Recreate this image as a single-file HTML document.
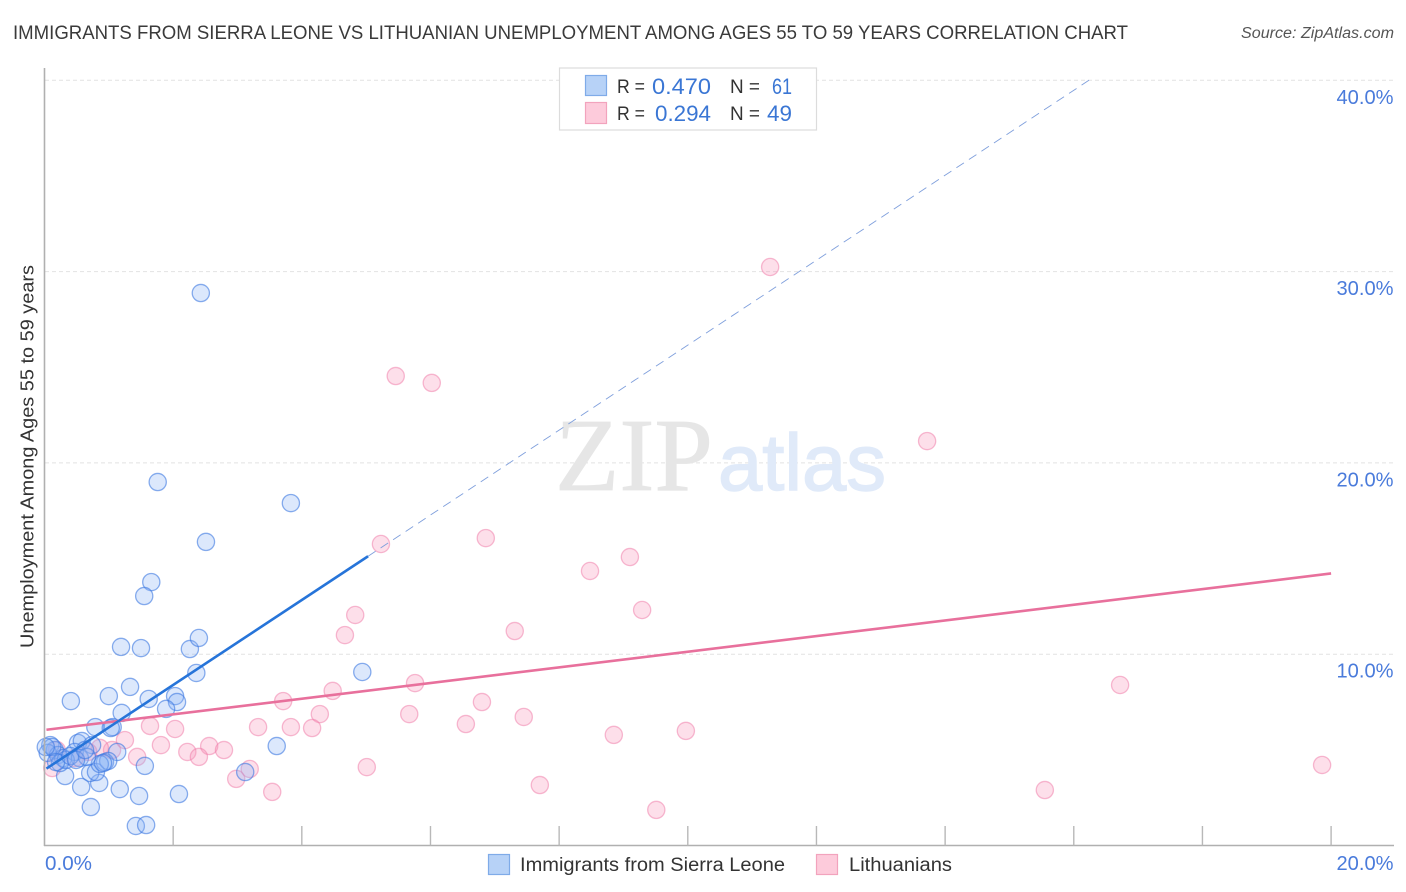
<!DOCTYPE html>
<html lang="en">
<head>
<meta charset="utf-8">
<title>Immigrants from Sierra Leone vs Lithuanian Unemployment Correlation Chart</title>
<style>
  html, body { margin: 0; padding: 0; background: #fff; }
  svg { display: block; font-family: "Liberation Sans", sans-serif; }
</style>
</head>
<body>
<svg id="chart" xmlns="http://www.w3.org/2000/svg" width="1406" height="892" viewBox="0 0 1406 892">
  <rect x="0" y="0" width="1406" height="892" fill="#ffffff"/>
  <text x="13" y="39" font-size="19.5" fill="#3a3a3a" textLength="1115" lengthAdjust="spacingAndGlyphs">IMMIGRANTS FROM SIERRA LEONE VS LITHUANIAN UNEMPLOYMENT AMONG AGES 55 TO 59 YEARS CORRELATION CHART</text>
  <text x="1394" y="38" font-size="15.5" font-style="italic" fill="#555555" text-anchor="end" textLength="153" lengthAdjust="spacingAndGlyphs">Source: ZipAtlas.com</text>

  <g id="grid"></g>

  <g>
    <text x="555" y="490" font-family="'Liberation Serif', serif" font-size="104" fill="#e6e6e6" stroke="#e6e6e6" stroke-width="0.8" textLength="158" lengthAdjust="spacingAndGlyphs">ZIP</text>
    <text x="718" y="490" font-size="80" fill="#e0eaf9" stroke="#e0eaf9" stroke-width="1.4" textLength="168" lengthAdjust="spacingAndGlyphs">atlas</text>
  </g>

  <g id="points-lithuanians"></g>
  <g id="points-sierra"></g>
  <g id="trends"></g>
  <g id="axes"></g>

  <g>
    <rect x="559.5" y="68" width="257" height="62" fill="#ffffff" stroke="#dcdcdc" stroke-width="1.2"/>
    <rect x="585.5" y="75.5" width="21" height="20" fill="#b7d2f7" stroke="#7fabe8" stroke-width="1.2"/>
    <rect x="585.5" y="102.5" width="21" height="21" fill="#fdcbdb" stroke="#f2a3bd" stroke-width="1.2"/>
    <text x="617" y="93" font-size="19" fill="#333333" textLength="28" lengthAdjust="spacingAndGlyphs">R =</text>
    <text x="652" y="94" font-size="22" fill="#3a76d4" textLength="59" lengthAdjust="spacingAndGlyphs">0.470</text>
    <text x="730" y="93" font-size="19" fill="#333333" textLength="30" lengthAdjust="spacingAndGlyphs">N =</text>
    <text x="772" y="94" font-size="22" fill="#3a76d4" textLength="20" lengthAdjust="spacingAndGlyphs">61</text>
    <text x="617" y="120" font-size="19" fill="#333333" textLength="28" lengthAdjust="spacingAndGlyphs">R =</text>
    <text x="655" y="121" font-size="22" fill="#3a76d4" textLength="56" lengthAdjust="spacingAndGlyphs">0.294</text>
    <text x="730" y="120" font-size="19" fill="#333333" textLength="30" lengthAdjust="spacingAndGlyphs">N =</text>
    <text x="767" y="121" font-size="22" fill="#3a76d4" textLength="25" lengthAdjust="spacingAndGlyphs">49</text>
  </g>

  <g>
    <g>
      <rect x="488.5" y="854.5" width="21" height="20" fill="#b7d2f7" stroke="#7fabe8" stroke-width="1.2"/>
      <text x="520" y="871" font-size="19" fill="#333333" textLength="265" lengthAdjust="spacingAndGlyphs">Immigrants from Sierra Leone</text>
    </g>
    <g>
      <rect x="816.5" y="854.5" width="21" height="20" fill="#fdcbdb" stroke="#f2a3bd" stroke-width="1.2"/>
      <text x="849" y="871" font-size="19" fill="#333333" textLength="103" lengthAdjust="spacingAndGlyphs">Lithuanians</text>
    </g>
  </g>

  <text transform="translate(33.5,648) rotate(-90)" font-size="18.5" fill="#333333" textLength="383" lengthAdjust="spacingAndGlyphs">Unemployment Among Ages 55 to 59 years</text>
</svg>

<script>
// Data (x = percent immigrants from Sierra Leone / Lithuanian, y = unemployment percent)
const sierraX = [2.43,1.76,3.83,2.51,1.66,1.55,1.19,1.50,2.26,2.40,2.36,4.94,0.41,1.00,1.33,1.62,2.03,2.06,1.89,1.20,0.79,1.06,1.03,1.13,1.56,1.17,0.57,0.85,0.71,0.80,0.32,0.72,1.47,2.09,1.42,1.58,3.12,3.61,0.52,0.58,0.74,0.94,0.99,0.86,0.91,0.09,0.16,0.05,0.21,0.29,0.47,0.55,0.66,0.24,0.33,0.12,0.02,0.18,0.40,0.49,0.63];
const sierraY = [28.88,19.00,17.90,15.87,13.77,13.04,10.38,10.32,10.27,10.85,9.02,9.07,7.55,7.81,8.29,7.66,7.81,7.50,7.14,6.93,6.19,6.19,6.14,4.89,4.16,2.95,3.06,3.27,3.79,3.84,3.63,2.01,2.59,2.69,1.02,1.07,3.84,5.20,5.36,5.46,5.25,4.36,4.42,4.26,4.31,5.25,4.99,4.84,4.73,4.57,4.89,4.57,4.63,4.31,4.47,5.15,5.15,4.36,4.68,4.47,4.99];
const lithuanianX = [11.28,5.46,6.02,13.72,5.23,6.86,8.48,9.10,9.29,4.83,4.67,7.31,16.72,4.48,5.76,3.71,6.80,4.28,5.67,7.45,6.55,3.32,3.83,4.16,1.64,2.03,8.85,9.97,1.25,1.81,2.56,2.79,2.22,2.40,1.44,5.01,19.86,7.70,3.19,2.98,3.54,15.55,9.51,1.05,0.86,0.12,0.19,0.47,0.68];
const lithuanianY = [30.24,24.54,24.18,21.14,15.76,16.07,14.35,15.08,12.31,12.05,11.00,11.21,8.39,8.08,8.49,7.55,7.50,6.87,6.87,6.72,6.35,6.19,6.19,6.14,6.25,6.09,5.78,5.99,5.51,5.25,5.20,4.99,4.89,4.63,4.63,4.10,4.21,3.16,4.00,3.48,2.80,2.90,1.86,4.99,5.10,4.05,4.99,4.57,4.89];
const sierraTrendX = [0.03,5.03,16.28];
const sierraTrendY = [4.02,15.12,40.1];
const lithuanianTrendX = [0.03,20];
const lithuanianTrendY = [6.05,14.22];
const yTickValues = [10,20,30,40];
const yTickLabels = ["10.0%","20.0%","30.0%","40.0%"];
const xTickValues = [2,4,6,8,10,12,14,16,18,20];
const xEndLabels = ["0.0%","20.0%"];

const NS = "http://www.w3.org/2000/svg";
function xScale(v) { return 44.5 + v * 64.33; }
function yScale(v) { return 845.5 - v * 19.13; }
function make(tag, attrs, parent) {
  const el = document.createElementNS(NS, tag);
  for (const k in attrs) el.setAttribute(k, attrs[k]);
  parent.appendChild(el);
  return el;
}

const grid = document.getElementById("grid");
yTickValues.forEach(function (v) {
  const line = make("line", {x1: 45, x2: 1393, y1: yScale(v), y2: yScale(v), stroke: "#e2e2e2", "stroke-width": 1, "stroke-dasharray": "4 3"}, grid);
  
  
});

const axes = document.getElementById("axes");
const yAxis = make("line", {x1: 44.5, x2: 44.5, y1: 68, y2: 846, stroke: "#b0b0b0", "stroke-width": 1.6}, axes);


const xAxis = make("line", {x1: 44, x2: 1394, y1: 845.5, y2: 845.5, stroke: "#b0b0b0", "stroke-width": 1.6}, axes);


xTickValues.forEach(function (v) {
  const t = make("line", {x1: xScale(v), x2: xScale(v), y1: 826, y2: 845.5, stroke: "#b8b8b8", "stroke-width": 1.4}, axes);
  
  
});
yTickValues.forEach(function (v, i) {
  const t = make("text", {x: 1393.5, y: yScale(v) + 23.5, "text-anchor": "end", "font-size": 20, fill: "#4a7bdb", textLength: 57, lengthAdjust: "spacingAndGlyphs"}, axes);
  t.textContent = yTickLabels[i];
  
  
});
const x0Label = make("text", {x: 45, y: 870, "font-size": 20, fill: "#4a7bdb", textLength: 47, lengthAdjust: "spacingAndGlyphs"}, axes);
x0Label.textContent = xEndLabels[0];


const x1Label = make("text", {x: 1393.5, y: 870, "text-anchor": "end", "font-size": 20, fill: "#4a7bdb", textLength: 57, lengthAdjust: "spacingAndGlyphs"}, axes);
x1Label.textContent = xEndLabels[1];



const pinkGroup = document.getElementById("points-lithuanians");
lithuanianX.forEach(function (v, i) {
  const c = make("circle", {cx: xScale(v), cy: yScale(lithuanianY[i]), r: 8.6, fill: "rgba(250,150,185,0.3)", stroke: "rgba(240,120,165,0.5)", "stroke-width": 1.3}, pinkGroup);
  
  
});
const blueGroup = document.getElementById("points-sierra");
sierraX.forEach(function (v, i) {
  const c = make("circle", {cx: xScale(v), cy: yScale(sierraY[i]), r: 8.6, fill: "rgba(140,180,245,0.3)", stroke: "rgba(60,120,225,0.6)", "stroke-width": 1.3}, blueGroup);
  
  
});

const trends = document.getElementById("trends");
const blueDash = make("line", {x1: xScale(sierraTrendX[1]), y1: yScale(sierraTrendY[1]), x2: xScale(sierraTrendX[2]), y2: yScale(sierraTrendY[2]), stroke: "#7f9fdc", "stroke-width": 0.9, "stroke-dasharray": "9 6"}, trends);


const pinkLine = make("line", {x1: xScale(lithuanianTrendX[0]), y1: yScale(lithuanianTrendY[0]), x2: xScale(lithuanianTrendX[1]), y2: yScale(lithuanianTrendY[1]), stroke: "#e8709c", "stroke-width": 2.6}, trends);


const blueLine = make("line", {x1: xScale(sierraTrendX[0]), y1: yScale(sierraTrendY[0]), x2: xScale(sierraTrendX[1]), y2: yScale(sierraTrendY[1]), stroke: "#2674d9", "stroke-width": 2.6}, trends);


</script>
</body>
</html>
